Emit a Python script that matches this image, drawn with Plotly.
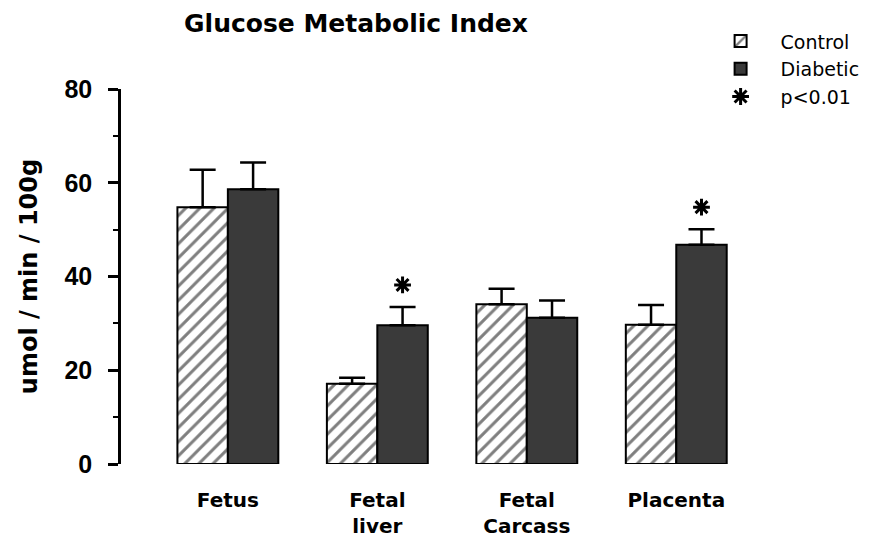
import plotly.graph_objects as go

# ---- data ----
categories = ["Fetus", "Fetal<br>liver", "Fetal<br>Carcass", "Placenta"]
control = [54.8, 17.1, 34.1, 29.7]
control_err = [8.0, 1.3, 3.3, 4.2]
diabetic = [58.6, 29.6, 31.2, 46.8]
diabetic_err = [5.7, 3.9, 3.7, 3.3]
significant = [False, True, False, True]
y_ticks = [0, 20, 40, 60, 80]

BARGAP = 0.325
STAR_PAD = 4.7

idx = list(range(len(categories)))
bar_w = (1 - BARGAP) / 2
star_x = [i + bar_w / 2 for i, s in zip(idx, significant) if s]
star_y = [d + e + STAR_PAD for d, e, s in zip(diabetic, diabetic_err, significant) if s]

fig = go.Figure()
fig.add_trace(go.Bar(
    x=idx, y=control, name="Control",
    marker=dict(color="white", line=dict(color="black", width=2),
                pattern=dict(shape="/", fgcolor="black", bgcolor="white",
                             size=10, solidity=0.3)),
    error_y=dict(type="data", array=control_err, arrayminus=[0] * len(control),
                 symmetric=False, color="black", thickness=2.5, width=13),
    cliponaxis=False, legendgroup="a",
))
fig.add_trace(go.Bar(
    x=idx, y=diabetic, name="Diabetic",
    marker=dict(color="#3a3a3a", line=dict(color="black", width=2)),
    error_y=dict(type="data", array=diabetic_err, arrayminus=[0] * len(diabetic),
                 symmetric=False, color="black", thickness=2.5, width=13),
    cliponaxis=False, legendgroup="b",
))
fig.add_trace(go.Scatter(
    x=star_x, y=star_y, mode="markers", name="p<0.01",
    marker=dict(symbol="asterisk-open", size=14, color="black",
                line=dict(color="black", width=3)),
    cliponaxis=False, legendgroup="c",
))

fig.update_layout(
    width=869, height=542,
    margin=dict(l=113, r=118, t=81, b=75),
    paper_bgcolor="white", plot_bgcolor="white",
    barmode="group", bargap=BARGAP, bargroupgap=0,
    title=dict(text="Glucose Metabolic Index", x=348 / 869, xref="container",
               xanchor="center", y=1 - 6 / 542, yref="container", yanchor="top",
               font=dict(family="DejaVu Sans", size=25, color="black", weight="bold")),
    legend=dict(x=0.92, y=1.178, xanchor="left", yanchor="top",
                font=dict(family="DejaVu Sans", size=19, color="black"),
                itemwidth=70, tracegroupgap=0, traceorder="grouped",
                bgcolor="rgba(0,0,0,0)"),
    xaxis=dict(range=[-0.715, 3.5], tickvals=idx, ticktext=categories,
               showline=False, ticks="", showgrid=False, zeroline=False,
               ticklabelstandoff=22,
               tickfont=dict(family="DejaVu Sans", size=20, color="black", weight="bold")),
    yaxis=dict(range=[0, 80], tickvals=y_ticks, ticks="outside", ticklen=10,
               tickwidth=2.5, tickcolor="black", showline=True, linewidth=2.5,
               linecolor="black", showgrid=False, zeroline=False,
               ticklabelstandoff=11,
               minor=dict(dtick=10, ticks="outside", ticklen=5, tickwidth=2,
                          tickcolor="black", showgrid=False),
               tickfont=dict(family="Liberation Sans", size=25, color="black", weight="bold"),
               title=dict(text="umol / min / 100g", standoff=21,
                          font=dict(family="DejaVu Sans", size=24, color="black",
                                    weight="bold"))),
)

fig.write_html("out.html")
